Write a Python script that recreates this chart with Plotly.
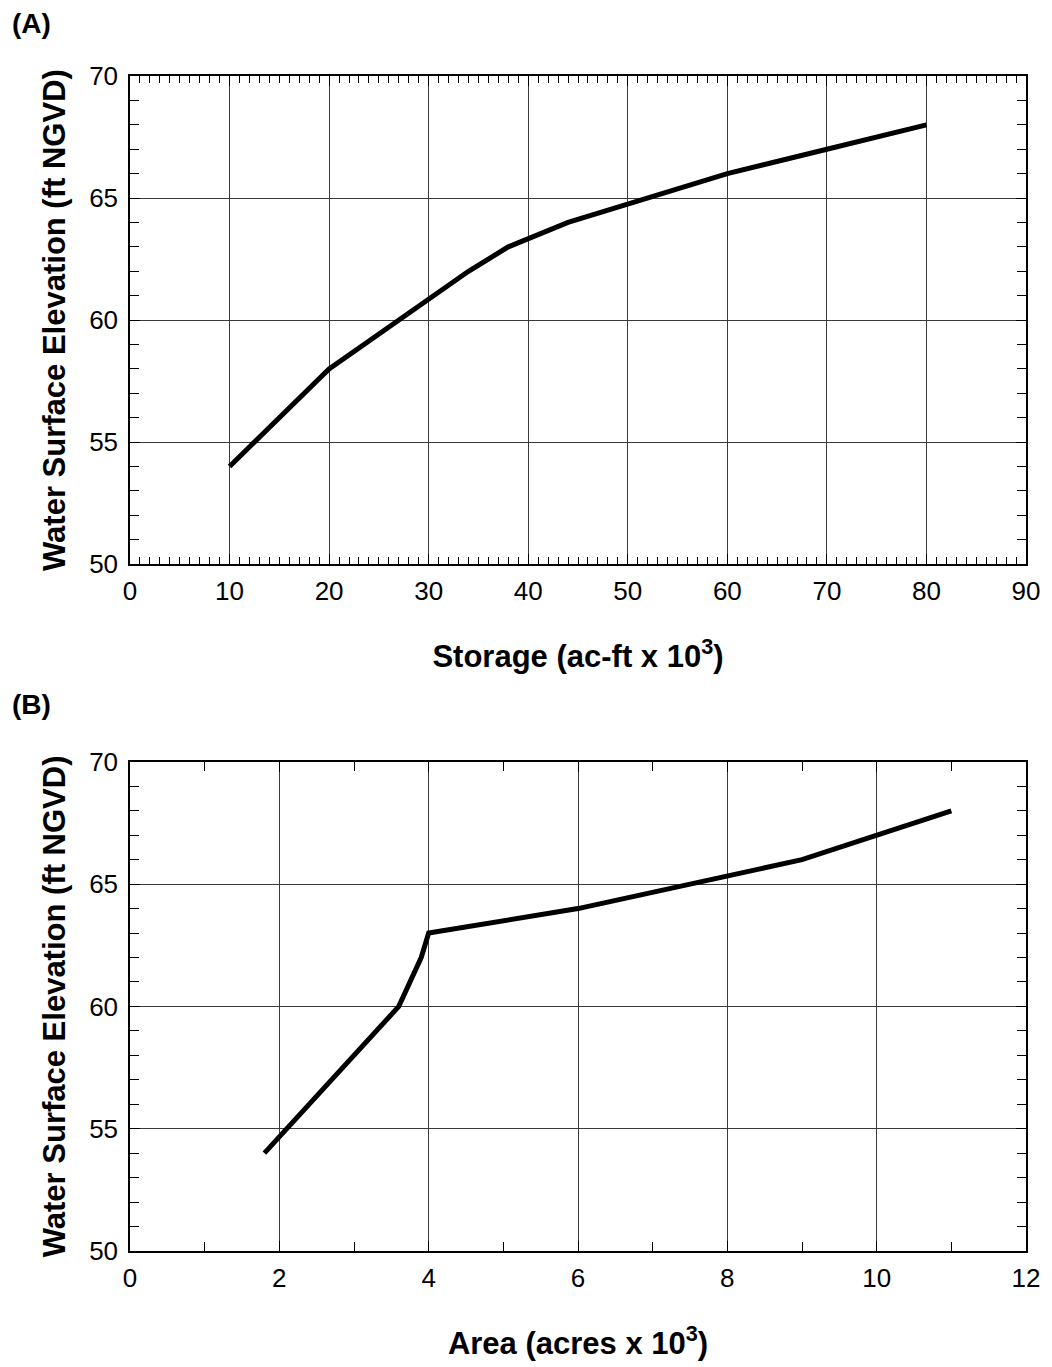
import plotly.graph_objects as go

# Panel A: storage (ac-ft x 10^3) vs elevation
storage = [10, 20, 34, 38, 44, 60, 70, 80]
elev_a = [54, 58, 62, 63, 64, 66, 67, 68]

# Panel B: area (acres x 10^3) vs elevation
area = [1.8, 3.6, 3.9, 4.0, 6.0, 9.0, 11.0]
elev_b = [54, 60, 62, 63, 64, 66, 68]

FONT = "Liberation Sans, Arial, sans-serif"

fig = go.Figure()
fig.add_trace(go.Scatter(x=storage, y=elev_a, mode="lines",
                         line=dict(color="black", width=5), xaxis="x", yaxis="y",
                         showlegend=False))
fig.add_trace(go.Scatter(x=area, y=elev_b, mode="lines",
                         line=dict(color="black", width=5), xaxis="x2", yaxis="y2",
                         showlegend=False))

# page has an 8px body margin; figure is sized to fit inside the window
OFF = 8
W, H = 1052 - OFF, 1367 - OFF
PL, PR, PT, PB = 130, 1030, 76, 1253  # plot area in page pixels
ml, mr, mt = PL - OFF, W - (PR - OFF), PT - OFF
mb = H - (PB - OFF)
ph = PB - PT
pw = PR - PL

def fy(py):
    return (PB - py) / ph

def fx(px):
    return (px - PL) / pw

common_axis = dict(showline=True, linecolor="black", linewidth=1.5, mirror="allticks",
                   ticks="inside", ticklen=10, tickcolor="black",
                   showgrid=True, gridcolor="#3a3a3a", gridwidth=1, zeroline=False,
                   tickfont=dict(family=FONT, size=26, color="black"))

ytitle = dict(text="<b>Water Surface Elevation (ft NGVD)</b>",
              font=dict(family=FONT, size=31, color="black"), standoff=14)

fig.update_layout(
    width=W, height=H,
    margin=dict(l=ml, r=mr, t=mt, b=mb),
    paper_bgcolor="white", plot_bgcolor="white",
    xaxis=dict(common_axis, range=[0, 90], dtick=10, anchor="y", ticklabelstandoff=3,
               minor=dict(dtick=1, ticks="inside", ticklen=7, tickcolor="black", showgrid=False),
               title=dict(text="<b>Storage (ac-ft x 10<sup>3</sup>)</b>",
                          font=dict(family=FONT, size=31, color="black"), standoff=40)),
    yaxis=dict(common_axis, range=[50, 70], dtick=5, domain=[fy(565), 1.0], anchor="x",
               ticklabelstandoff=5,
               minor=dict(dtick=1, ticks="inside", ticklen=9, tickcolor="black", showgrid=False),
               title=ytitle),
    xaxis2=dict(common_axis, range=[0, 12], dtick=2, anchor="y2", ticklabelstandoff=3,
                minor=dict(dtick=1, ticks="inside", ticklen=9, tickcolor="black", showgrid=False),
                title=dict(text="<b>Area (acres x 10<sup>3</sup>)</b>",
                           font=dict(family=FONT, size=31, color="black"), standoff=40)),
    yaxis2=dict(common_axis, range=[50, 70], dtick=5, domain=[0.0, fy(763)], anchor="x2",
                ticklabelstandoff=5,
                minor=dict(dtick=1, ticks="inside", ticklen=9, tickcolor="black", showgrid=False),
                title=ytitle),
    annotations=[
        dict(text="<b>(A)</b>", x=fx(9), y=fy(23), xref="paper", yref="paper", showarrow=False,
             font=dict(family=FONT, size=28, color="black"), xanchor="left", yanchor="middle"),
        dict(text="<b>(B)</b>", x=fx(9), y=fy(706), xref="paper", yref="paper", showarrow=False,
             font=dict(family=FONT, size=28, color="black"), xanchor="left", yanchor="middle"),
    ],
)

fig.write_html("out.html")
